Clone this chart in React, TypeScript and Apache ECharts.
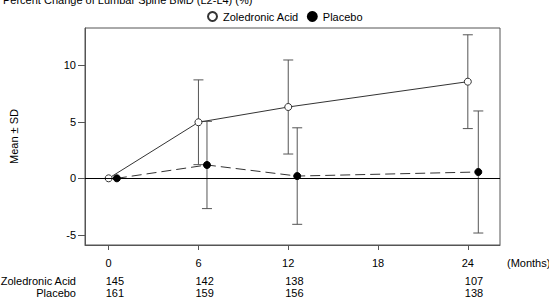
import React, { useEffect, useRef } from "react";
import * as echarts from "echarts";

const titleText = "Percent Change of Lumbar Spine BMD (L2-L4) (%)";
const seriesNames = ["Zoledronic Acid", "Placebo"];
const monthTicks = [0, 6, 12, 18, 24];
const yTicks = [-5, 0, 5, 10];
const zolX = [0, 6, 12, 24];
const plaX = [0.55, 6.57, 12.6, 24.7];
const zolMean = [0, 4.96, 6.31, 8.55];
const zolSD = [0, 3.75, 4.16, 4.15];
const plaMean = [0, 1.18, 0.2, 0.56];
const plaSD = [0, 3.86, 4.27, 5.4];
const countMonths = [0, 6, 12, 24];
const zolN = [145, 142, 138, 107];
const plaN = [161, 159, 156, 138];

const FONT = "Liberation Sans, Arial, sans-serif";

export default function App() {
  const ref = useRef<HTMLDivElement>(null);
  useEffect(() => {
    if (!ref.current) return;
    const chart = echarts.init(ref.current, undefined, { renderer: "svg" });
    const errData = (xs: number[], m: number[], s: number[]) =>
      xs.map((x, i) => [x, m[i] - s[i], m[i] + s[i]]).filter((d, i) => s[i] > 0);
    const errRender = (params: any, api: any) => {
      const x = api.value(0);
      const lo = api.coord([x, api.value(1)]);
      const hi = api.coord([x, api.value(2)]);
      const hw = 5;
      const st = { stroke: "#555", lineWidth: 1 };
      return {
        type: "group",
        children: [
          { type: "line", shape: { x1: lo[0], y1: lo[1], x2: hi[0], y2: hi[1] }, style: st },
          { type: "line", shape: { x1: lo[0] - hw, y1: lo[1], x2: lo[0] + hw, y2: lo[1] }, style: st },
          { type: "line", shape: { x1: hi[0] - hw, y1: hi[1], x2: hi[0] + hw, y2: hi[1] }, style: st },
        ],
      };
    };
    const countRender = (params: any, api: any) => {
      const x = api.coord([api.value(0), 0])[0];
      return {
        type: "group",
        children: [
          { type: "text", x: x - 3, y: 281, style: { text: String(api.value(1)), font: `11px ${FONT}`, fill: "#000", textAlign: "left", textVerticalAlign: "middle" } },
          { type: "text", x: x - 3, y: 293, style: { text: String(api.value(2)), font: `11px ${FONT}`, fill: "#000", textAlign: "left", textVerticalAlign: "middle" } },
        ],
      };
    };
    chart.setOption({
      animation: false,
      textStyle: { fontFamily: FONT },
      grid: { left: 84, top: 28, right: 49, bottom: 57, show: true, borderColor: "#555", borderWidth: 1 },
      legend: {
        left: 202,
        top: 6,
        icon: "circle",
        itemWidth: 9,
        itemHeight: 9,
        itemGap: 8,
        textStyle: { fontSize: 11, color: "#000", fontFamily: FONT, padding: [0, 0, 0, 1] },
        data: seriesNames,
      },
      xAxis: {
        type: "value",
        min: -1.58,
        max: 26.15,
        splitLine: { show: false },
        axisLine: { show: true, onZero: false, lineStyle: { color: "#555" } },
        axisTick: { show: true, length: 5, lineStyle: { color: "#555" }, customValues: monthTicks },
        axisLabel: { margin: 12, fontSize: 11, color: "#000", customValues: monthTicks },
      },
      yAxis: {
        type: "value",
        min: -5.9,
        max: 13.3,
        name: "Mean ± SD",
        nameLocation: "middle",
        nameRotate: 90,
        nameGap: 66,
        nameTextStyle: { fontSize: 11, color: "#000" },
        splitLine: { show: false },
        axisLine: { show: true, onZero: false, lineStyle: { color: "#555" } },
        axisTick: { show: true, length: 7, lineStyle: { color: "#555" }, customValues: yTicks },
        axisLabel: { margin: 9, fontSize: 11, color: "#000", customValues: yTicks },
      },
      graphic: [
        { type: "text", x: 3, y: -6, style: { text: titleText, font: `11px ${FONT}`, fill: "#000" } },
        { type: "text", x: 507, y: 263, style: { text: "(Months)", font: `11px ${FONT}`, fill: "#000", textVerticalAlign: "middle" } },
        { type: "text", x: 76, y: 281, style: { text: seriesNames[0], font: `11px ${FONT}`, fill: "#000", textAlign: "right", textVerticalAlign: "middle" } },
        { type: "text", x: 76, y: 293, style: { text: seriesNames[1], font: `11px ${FONT}`, fill: "#000", textAlign: "right", textVerticalAlign: "middle" } },
      ],
      series: [
        {
          type: "custom",
          name: "zolErr",
          renderItem: errRender,
          data: errData(zolX, zolMean, zolSD),
          z: 1,
        },
        {
          type: "custom",
          name: "plaErr",
          renderItem: errRender,
          data: errData(plaX, plaMean, plaSD),
          z: 1,
        },
        {
          type: "line",
          name: seriesNames[0],
          data: zolX.map((x, i) => [x, zolMean[i]]),
          symbol: "circle",
          symbolSize: 7,
          lineStyle: { color: "#333", width: 1 },
          itemStyle: { color: "#fff", borderColor: "#333", borderWidth: 1 },
          z: 3,
          markLine: {
            silent: true,
            symbol: "none",
            label: { show: false },
            lineStyle: { color: "#000", width: 1, type: "solid" },
            data: [{ yAxis: 0 }],
          },
        },
        {
          type: "line",
          name: seriesNames[1],
          data: plaX.map((x, i) => [x, plaMean[i]]),
          symbol: "circle",
          symbolSize: 7,
          lineStyle: { color: "#333", width: 1, type: [10, 5] },
          itemStyle: { color: "#000", borderColor: "#000", borderWidth: 1 },
          z: 3,
        },
        {
          type: "custom",
          name: "counts",
          renderItem: countRender,
          clip: false,
          data: countMonths.map((m, i) => [m, zolN[i], plaN[i]]),
        },
      ],
    });
    return () => chart.dispose();
  }, []);
  return <div ref={ref} style={{ position: "absolute", left: 0, top: 0, width: 549, height: 302 }} />;
}
